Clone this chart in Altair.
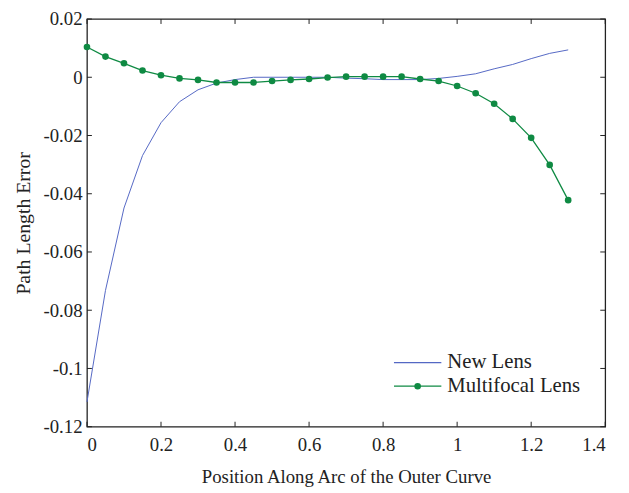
import altair as alt
import pandas as pd

# ---- data ----
x_pos = [0.0, 0.05, 0.1, 0.15, 0.2, 0.25, 0.3, 0.35, 0.4, 0.45, 0.5, 0.55, 0.6,
         0.65, 0.7, 0.75, 0.8, 0.85, 0.9, 0.95, 1.0, 1.05, 1.1, 1.15, 1.2, 1.25, 1.3]

new_lens = [-0.1115, -0.0732, -0.0449, -0.0269, -0.0156, -0.0084, -0.0043, -0.0020,
            -0.0008, 0.0000, 0.0000, 0.0000, 0.0000, 0.0000, -0.0003, -0.0005,
            -0.0008, -0.0008, -0.0008, -0.0004, 0.0003, 0.0012, 0.0029, 0.0044,
            0.0064, 0.0082, 0.0094]

multifocal = [0.0104, 0.0071, 0.0048, 0.0023, 0.0007, -0.0004, -0.0009, -0.0018,
              -0.0018, -0.0018, -0.0013, -0.0009, -0.0006, -0.0001, 0.0002, 0.0002,
              0.0002, 0.0002, -0.0006, -0.0013, -0.0030, -0.0055, -0.0091, -0.0143,
              -0.0208, -0.0301, -0.0422]

x_ticks = [0, 0.2, 0.4, 0.6, 0.8, 1, 1.2, 1.4]
y_ticks = [0.02, 0, -0.02, -0.04, -0.06, -0.08, -0.1, -0.12]

series_names = ["New Lens", "Multifocal Lens"]
colors = ["#5468c4", "#0f8a43"]

W, H = 525, 413
FONT = "Liberation Serif"
LABEL_FS = 19
TXT = "#222222"

df_new = pd.DataFrame({"x": x_pos, "y": new_lens})
df_multi = pd.DataFrame({"x": x_pos, "y": multifocal})
df_xt = pd.DataFrame({"x": x_ticks})
df_yt = pd.DataFrame({"y": y_ticks})

xscale = alt.Scale(domain=[0, 1.4], nice=False, zero=False)
yscale = alt.Scale(domain=[-0.12, 0.02], nice=False, zero=False)

xaxis = alt.Axis(values=x_ticks, title="Position Along Arc of the Outer Curve",
                 labelExpr="toString(datum.value)", grid=False, domain=False,
                 ticks=False, labelPadding=9, titlePadding=14,
                 labelFont=FONT, titleFont=FONT, labelFontSize=LABEL_FS,
                 titleFontSize=19, titleFontWeight="normal",
                 labelColor=TXT, titleColor=TXT)
yaxis = alt.Axis(values=y_ticks, title="Path Length Error",
                 labelExpr="toString(datum.value)", grid=False, domain=False,
                 ticks=False, labelPadding=5, titlePadding=10,
                 labelFont=FONT, titleFont=FONT, labelFontSize=LABEL_FS,
                 titleFontSize=20, titleFontWeight="normal",
                 labelColor=TXT, titleColor=TXT)

base_new = alt.Chart(df_new).mark_line(color=colors[0], strokeWidth=1).encode(
    x=alt.X("x:Q", scale=xscale, axis=xaxis),
    y=alt.Y("y:Q", scale=yscale, axis=yaxis),
)
multi_line = alt.Chart(df_multi).mark_line(color=colors[1], strokeWidth=1.3).encode(
    x=alt.X("x:Q", scale=xscale), y=alt.Y("y:Q", scale=yscale))
multi_pts = alt.Chart(df_multi).mark_point(color=colors[1], filled=True, size=45, opacity=1).encode(
    x=alt.X("x:Q", scale=xscale), y=alt.Y("y:Q", scale=yscale))

# inward ticks on all four sides
tk = dict(color=TXT, strokeWidth=1)
xt_bot = alt.Chart(df_xt).mark_rule(**tk).encode(
    x=alt.X("x:Q", scale=xscale), y=alt.value(H), y2=alt.value(H - 5))
xt_top = alt.Chart(df_xt).mark_rule(**tk).encode(
    x=alt.X("x:Q", scale=xscale), y=alt.value(0), y2=alt.value(5))
yt_left = alt.Chart(df_yt).mark_rule(**tk).encode(
    y=alt.Y("y:Q", scale=yscale), x=alt.value(0), x2=alt.value(5))
yt_right = alt.Chart(df_yt).mark_rule(**tk).encode(
    y=alt.Y("y:Q", scale=yscale), x=alt.value(W), x2=alt.value(W - 5))

# custom legend (plot-area pixel offsets)
leg_x0, leg_x1, leg_tx = 311, 359, 365
leg_y = [348, 372]
leg_df = pd.DataFrame({"name": series_names})
legend_layers = []
for i, name in enumerate(series_names):
    d = leg_df.iloc[[i]]
    legend_layers.append(alt.Chart(d).mark_rule(color=colors[i], strokeWidth=1.3).encode(
        x=alt.value(leg_x0), x2=alt.value(leg_x1), y=alt.value(leg_y[i])))
    legend_layers.append(alt.Chart(d).mark_text(
        align="left", baseline="middle", font=FONT, fontSize=21, color=TXT).encode(
        x=alt.value(leg_tx), y=alt.value(leg_y[i]), text="name:N"))
legend_layers.append(alt.Chart(leg_df.iloc[[1]]).mark_point(
    color=colors[1], filled=True, size=45, opacity=1).encode(
    x=alt.value((leg_x0 + leg_x1) / 2), y=alt.value(leg_y[1])))

chart = alt.layer(base_new, multi_line, multi_pts, xt_bot, xt_top, yt_left, yt_right,
                  *legend_layers).properties(
    width=W, height=H,
    padding={"left": 80, "top": 8, "right": 16, "bottom": 64},
    autosize=alt.AutoSizeParams(type="none"),
    background="white",
).configure_view(stroke=TXT, strokeWidth=1.3)

chart.save("out.html", embed_options={"renderer": "svg", "actions": False})
